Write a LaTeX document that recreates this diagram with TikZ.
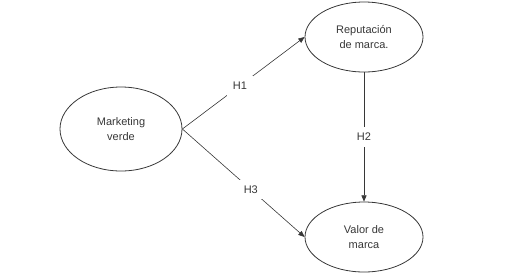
\documentclass[tikz,border=0pt]{standalone}
\usepackage{fontspec}
\setmainfont{Liberation Sans}
\usetikzlibrary{arrows.meta,positioning,shapes.geometric}
\definecolor{ink}{RGB}{55,55,55}
\tikzset{
  >={Triangle[length=2.2mm,width=1.8mm]},
  construct/.style={ellipse,draw=ink,thick,minimum width=#1,minimum height=70pt,
    align=center,font=\fontsize{11}{14.5}\selectfont,text=ink,inner sep=0pt},
  construct/.default=118pt,
  hyp/.style={->,draw=ink,semithick},
  hlabel/.style={fill=white,font=\fontsize{11}{13}\selectfont,text=ink,inner sep=6pt},
}
\begin{document}
\begin{tikzpicture}[x=1pt,y=-1pt]
  \useasboundingbox (0,0) rectangle (510,277);
  \node[construct=122pt,minimum height=84pt] (mv) at (121,129) {Marketing\\verde};
  \node[construct] (rep) at (364,37) {Reputación\\de marca.};
  \node[construct] (val) at (364,237) {Valor de\\marca};
  \draw[hyp] (mv.east) -- node[hlabel,pos=0.47] {H1} (rep.west);
  \draw[hyp] (mv.east) -- node[hlabel,pos=0.56] {H3} (val.west);
  \draw[hyp] (rep) -- node[hlabel] {H2} (val);
\end{tikzpicture}
\end{document}
